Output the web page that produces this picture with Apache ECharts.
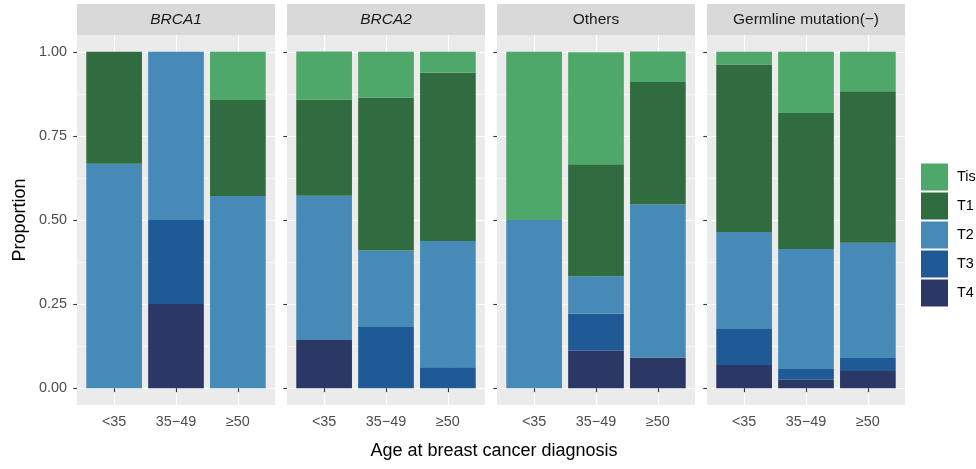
<!DOCTYPE html>
<html>
<head>
<meta charset="utf-8">
<script src="https://cdn.jsdelivr.net/npm/echarts@6/dist/echarts.min.js"></script>
<style>html,body{margin:0;padding:0;background:#fff}#chart{width:976px;height:469px}</style>
</head>
<body>
<div id="chart"></div>
<script>
// ---- data ----
const categories = ['<35', '35\u221249', '\u226550'];
const panelNames = ['BRCA1', 'BRCA2', 'Others', 'Germline mutation(\u2212)'];
const stages = ['T4', 'T3', 'T2', 'T1', 'Tis'];           // bottom -> top
const legendOrder = ['Tis', 'T1', 'T2', 'T3', 'T4'];
const yTickValues = [0, 0.25, 0.5, 0.75, 1];
// proportions per panel [BRCA1, BRCA2, Others, Germline], each: [<35, 35-49, >=50]
const T4  = [[0, 0.25, 0],      [0.143, 0, 0],        [0, 0.111, 0.091],   [0.069, 0.025, 0.051]];
const T3  = [[0, 0.25, 0],      [0, 0.182, 0.0625],   [0, 0.111, 0],       [0.107, 0.032, 0.039]];
const T2  = [[0.667, 0.5, 0.571],[0.429, 0.227, 0.375],[0.5, 0.111, 0.455], [0.288, 0.357, 0.342]];
const T1  = [[0.333, 0, 0.286], [0.286, 0.455, 0.5],  [0, 0.333, 0.364],   [0.498, 0.404, 0.451]];
const Tis = [[0, 0, 0.143],     [0.143, 0.136, 0.0625],[0.5, 0.333, 0.091], [0.038, 0.182, 0.117]];

// ---- styling / layout ----
const stageData = { T4, T3, T2, T1, Tis };
const colors = { Tis: '#4ea869', T1: '#306c3f', T2: '#468bb8', T3: '#1f5996', T4: '#2b3866' };
const panelLeft0 = 77, panelStep = 210, panelW = 198;
const panelTop = 35, panelH = 370;
const unit = panelH / 1.1;
const dataTop = panelTop + 0.05 * unit;
const band = panelW / 3.2;
const FONT = 'Liberation Sans, Arial, Helvetica, sans-serif';

const grids = [], xAxes = [], yAxes = [], series = [];
function hiddenAxis(gi) { return { gridIndex: gi, type: 'value', show: false }; }

panelNames.forEach((pn, p) => {
  const x0 = panelLeft0 + p * panelStep;
  // strip
  let gi = grids.length;
  grids.push({ left: x0, top: 4, width: panelW, height: 31, show: true, backgroundColor: '#d9d9d9', borderWidth: 0 });
  xAxes.push({ gridIndex: gi, type: 'value', position: 'top', axisLine: { show: false }, axisTick: { show: false },
    axisLabel: { show: false }, splitLine: { show: false }, name: pn, nameLocation: 'middle', nameGap: -15.5,
    nameTextStyle: { fontFamily: FONT, fontSize: 15.5, color: '#1a1a1a', fontStyle: p < 2 ? 'italic' : 'normal', verticalAlign: 'middle' } });
  yAxes.push(hiddenAxis(gi));
  // panel background
  gi = grids.length;
  grids.push({ left: x0, top: panelTop, width: panelW, height: panelH, show: true, backgroundColor: '#ebebeb', borderWidth: 0 });
  xAxes.push(hiddenAxis(gi)); yAxes.push(hiddenAxis(gi));
  // horizontal grid lines + y ticks
  gi = grids.length;
  grids.push({ left: x0, top: dataTop, width: panelW, height: unit });
  xAxes.push(hiddenAxis(gi));
  yAxes.push({ gridIndex: gi, type: 'value', min: yTickValues[0], max: yTickValues[yTickValues.length - 1], interval: 0.25,
    axisLine: { show: false },
    axisTick: { show: true, length: 3.7, lineStyle: { color: '#333', width: 1.1 } },
    axisLabel: { show: p === 0, formatter: v => v.toFixed(2), fontFamily: FONT, fontSize: 14.4, color: '#4d4d4d', margin: 10 },
    splitLine: { show: true, lineStyle: { color: '#fff', width: 1.1 } },
    minorTick: { show: false, splitNumber: 2 },
    minorSplitLine: { show: true, lineStyle: { color: '#fff', width: 0.55 } },
    name: p === 0 ? 'Proportion' : '', nameLocation: 'middle', nameGap: 48, nameRotate: 90,
    nameTextStyle: { fontFamily: FONT, fontSize: 18, color: '#000' } });
  // bars
  gi = grids.length;
  grids.push({ left: x0 + 0.1 * band, top: panelTop, width: 3 * band, height: panelH });
  xAxes.push({ gridIndex: gi, type: 'category', data: categories,
    axisLine: { show: false },
    axisTick: { show: true, alignWithLabel: true, length: 4, lineStyle: { color: '#333', width: 1.1 } },
    axisLabel: { fontFamily: FONT, fontSize: 14.4, color: '#4d4d4d', margin: 10 },
    splitLine: { show: false } });
  yAxes.push({ gridIndex: gi, type: 'value', min: -0.05, max: 1.05, show: false });
  // vertical major grid lines at each category (drawn under the bars)
  series.push({ type: 'line', name: 'vgrid' + p, xAxisIndex: gi, yAxisIndex: gi, data: [], z: 0, silent: true,
    markLine: { silent: true, symbol: 'none', z: 0, animation: false, label: { show: false },
      lineStyle: { color: '#fff', width: 1.1, type: 'solid' }, emphasis: { disabled: true },
      data: categories.map(c => ({ xAxis: c })) } });
  stages.forEach(s => {
    series.push({ type: 'bar', name: s, stack: 'panel' + p, xAxisIndex: gi, yAxisIndex: gi, z: 2,
      barWidth: '90%', itemStyle: { color: colors[s] }, emphasis: { disabled: true },
      data: stageData[s][p] });
  });
});
// x axis title spanning all panels
{
  const gi = grids.length;
  grids.push({ left: panelLeft0, top: panelTop, width: 834, height: panelH });
  xAxes.push({ gridIndex: gi, type: 'value', axisLine: { show: false }, axisTick: { show: false }, axisLabel: { show: false },
    splitLine: { show: false }, name: 'Age at breast cancer diagnosis', nameLocation: 'middle', nameGap: 46.5,
    nameTextStyle: { fontFamily: FONT, fontSize: 18, color: '#000', verticalAlign: 'middle' } });
  yAxes.push(hiddenAxis(gi));
}

const chart = echarts.init(document.getElementById('chart'), null, { renderer: 'canvas' });
chart.setOption({
  animation: false,
  textStyle: { fontFamily: FONT },
  grid: grids, xAxis: xAxes, yAxis: yAxes, series: series,
  legend: { data: legendOrder, orient: 'vertical', left: 921, top: 163.5, padding: 0, itemWidth: 27, itemHeight: 27, itemGap: 2,
    icon: 'rect', selectedMode: false, textStyle: { fontFamily: FONT, fontSize: 14.4, color: '#000', padding: [0, 0, 0, 4] } }
});
</script>
</body>
</html>
